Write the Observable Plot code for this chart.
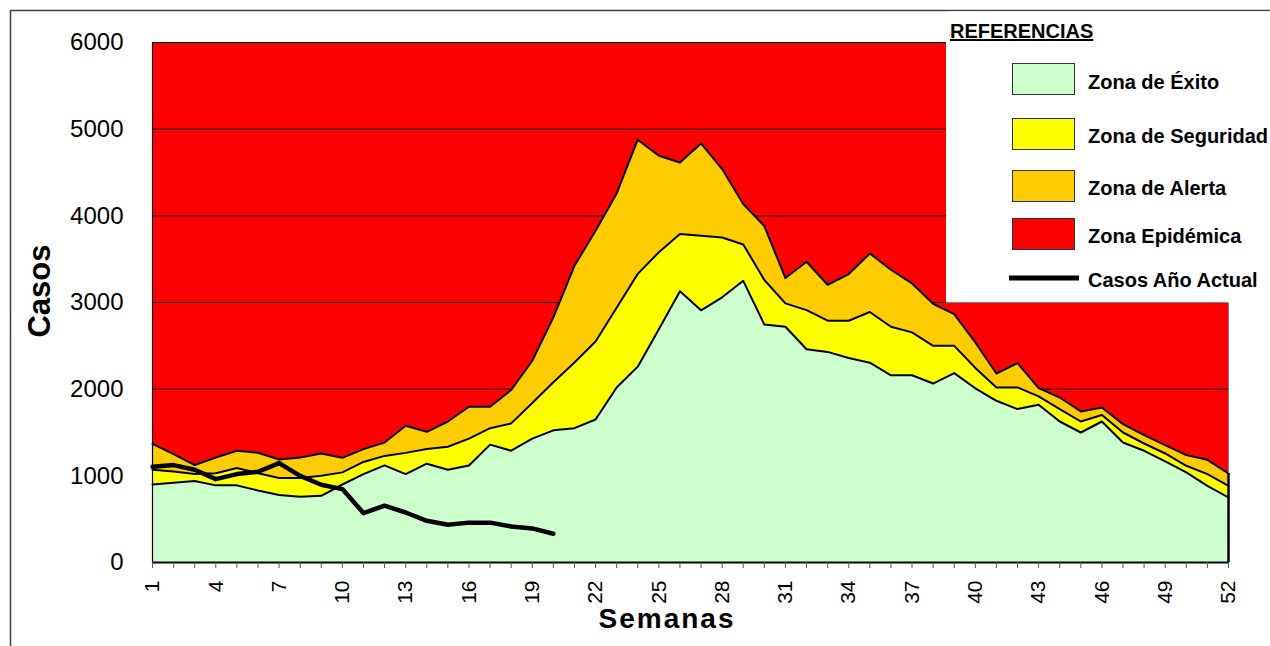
<!DOCTYPE html>
<html>
<head>
<meta charset="utf-8">
<script src="https://cdn.jsdelivr.net/npm/d3@7"></script>
<script src="https://cdn.jsdelivr.net/npm/@observablehq/plot@0.6"></script>
<style>
  html, body { margin: 0; padding: 0; background: #fff; }
  #wrap { position: relative; width: 1270px; height: 646px; overflow: hidden; font-family: "Liberation Sans", Arial, sans-serif; }
  #wrap > svg { position: absolute; left: 0; top: 0; }
</style>
</head>
<body>
<div id="wrap"></div>
<script>
// ---- Data ----
const weeks = d3.range(1, 53);
const labelWeeks = [1, 4, 7, 10, 13, 16, 19, 22, 25, 28, 31, 34, 37, 40, 43, 46, 49, 52];
const yTicks = [0, 1000, 2000, 3000, 4000, 5000, 6000];
const gridTicks = [1000, 2000, 3000, 4000, 5000];

// Upper limit of "Zona de Éxito"
const exito = [900, 920, 940, 890, 890, 830, 780, 760, 770, 900,
  1020, 1120, 1020, 1140, 1070, 1120, 1360, 1290, 1430, 1525,
  1550, 1650, 2020, 2260, 2690, 3130, 2910, 3060, 3250, 2745,
  2720, 2460, 2430, 2360, 2305, 2160, 2160, 2065, 2185, 2010,
  1866, 1770, 1820, 1627, 1500, 1627, 1385, 1289, 1166, 1039,
  885, 750];
// Upper limit of "Zona de Seguridad"
const seguridad = [1070, 1050, 1020, 1030, 1090, 1030, 975, 975, 1000, 1040,
  1160, 1230, 1265, 1310, 1335, 1430, 1550, 1605, 1840, 2080,
  2308, 2550, 2940, 3330, 3580, 3790, 3770, 3750, 3670, 3260,
  2990, 2912, 2790, 2790, 2890, 2720, 2655, 2500, 2500, 2245,
  2020, 2020, 1916, 1770, 1627, 1701, 1500, 1373, 1258, 1116,
  1020, 885];
// Upper limit of "Zona de Alerta"
const alerta = [1370, 1250, 1125, 1212, 1289, 1266, 1189, 1212, 1258, 1208,
  1308, 1385, 1578, 1508, 1627, 1797, 1797, 1990, 2328, 2828,
  3424, 3828, 4258, 4878, 4693, 4616, 4835, 4540, 4136, 3882,
  3282, 3470, 3205, 3328, 3566, 3378, 3220, 2985, 2866, 2539,
  2181, 2301, 2012, 1904, 1743, 1789, 1597, 1470, 1355, 1239,
  1185, 1027];
// Casos Año Actual (weeks 1-20)
const actual = [1104, 1124, 1070, 962, 1020, 1047, 1147, 1000, 897, 847,
  570, 656, 577, 481, 435, 460, 460, 416, 393, 332];

const legendItems = ["Zona de Éxito", "Zona de Seguridad", "Zona de Alerta", "Zona Epidémica"];
const legendColors = ["#ccffcc", "#ffff00", "#ffcc00", "#ff0000"];

const data = weeks.map((w, i) => ({week: w, exito: exito[i], seguridad: seguridad[i], alerta: alerta[i]}));
const actualData = actual.map((v, i) => ({week: i + 1, casos: v}));

const FONT = "'Liberation Sans', Arial, sans-serif";

const chart = Plot.plot({
  width: 1270,
  height: 646,
  marginLeft: 152,
  marginRight: 42,
  marginTop: 42,
  marginBottom: 84,
  x: {domain: [1, 52], label: null},
  y: {domain: [0, 6000], label: null},
  style: {fontFamily: FONT, background: "transparent", color: "#000", overflow: "visible"},
  marks: [
    Plot.frame({fill: "#ff0000", stroke: null}),
    Plot.ruleY(gridTicks, {stroke: "#000", strokeWidth: 1}),
    Plot.areaY(data, {x: "week", y: "alerta", fill: "#ffcc00"}),
    Plot.areaY(data, {x: "week", y: "seguridad", fill: "#ffff00"}),
    Plot.areaY(data, {x: "week", y: "exito", fill: "#ccffcc"}),
    Plot.lineY(data, {x: "week", y: "alerta", stroke: "#000", strokeWidth: 2}),
    Plot.lineY(data, {x: "week", y: "seguridad", stroke: "#000", strokeWidth: 2}),
    Plot.lineY(data, {x: "week", y: "exito", stroke: "#000", strokeWidth: 2}),
    Plot.ruleX([52], {stroke: "#808080", strokeWidth: 1}),
    Plot.ruleX([data[51]], {x: "week", y1: 0, y2: "alerta", stroke: "#000", strokeWidth: 2.5}),
    Plot.ruleX([1], {stroke: "#000", strokeWidth: 1.2}),
    Plot.ruleY([6000], {stroke: "#000", strokeWidth: 1}),
    Plot.lineY(actualData, {x: "week", y: "casos", stroke: "#000", strokeWidth: 4.5, strokeLinejoin: "round"}),
    Plot.ruleY([0], {stroke: "#000", strokeWidth: 2}),
    Plot.axisY({ticks: yTicks, tickSize: 0, tickPadding: 29, fontSize: 24, tickFormat: d => String(d), label: null}),
    Plot.axisX({ticks: weeks, tickSize: 6, tickFormat: () => "", label: null, stroke: "#555"}),
    Plot.axisX({ticks: labelWeeks, tickSize: 0, tickPadding: 18, tickRotate: -90, fontSize: 21, tickFormat: d => String(d), label: null})
  ]
});

const wrap = document.getElementById("wrap");
wrap.appendChild(chart);

// ---- Overlay: frame, axis titles and legend ----
const ov = d3.select(wrap).append("svg")
  .attr("width", 1270).attr("height", 646)
  .style("font-family", FONT);

// outer frame (top and left)
ov.append("path").attr("d", "M10.5,646 V10.5 H1270").attr("fill", "none").attr("stroke", "#404040").attr("stroke-width", 1.5);

// axis titles
ov.append("text").attr("x", 667).attr("y", 628).attr("text-anchor", "middle")
  .attr("font-size", 28).attr("font-weight", "bold").attr("letter-spacing", 2).text("Semanas");
ov.append("text").attr("transform", "translate(50,291) rotate(-90)").attr("text-anchor", "middle")
  .attr("font-size", 31).attr("font-weight", "bold").text("Casos");

// legend box
ov.append("rect").attr("x", 946).attr("y", 11.5).attr("width", 324).attr("height", 291).attr("fill", "#fff");
ov.append("text").attr("x", 950).attr("y", 38).attr("font-size", 20).attr("font-weight", "bold")
  .attr("text-decoration", "underline").text("REFERENCIAS");

const swY = [63, 118, 170, 218];
const txY = [89, 143, 195, 243];
legendItems.forEach((name, i) => {
  ov.append("rect").attr("x", 1012.5).attr("y", swY[i] + 0.5).attr("width", 62).attr("height", 31)
    .attr("fill", legendColors[i]).attr("stroke", "#333").attr("stroke-width", 1);
  ov.append("text").attr("x", 1088).attr("y", txY[i]).attr("font-size", 20).attr("font-weight", "bold").text(name);
});
ov.append("line").attr("x1", 1009).attr("x2", 1079).attr("y1", 278).attr("y2", 278)
  .attr("stroke", "#000").attr("stroke-width", 5);
ov.append("text").attr("x", 1088).attr("y", 287).attr("font-size", 20).attr("font-weight", "bold").text("Casos Año Actual");
</script>
</body>
</html>
